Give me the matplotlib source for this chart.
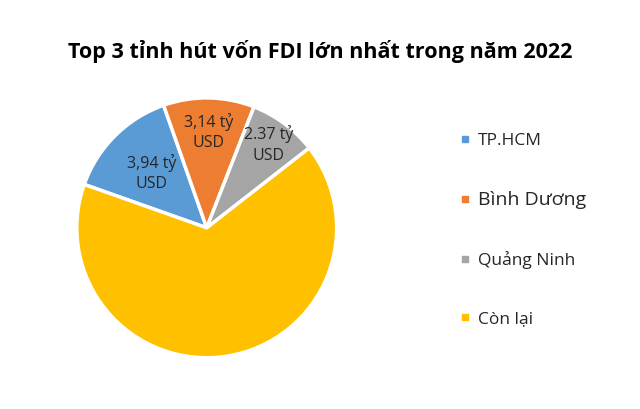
import numpy as np
import matplotlib.pyplot as plt
from matplotlib.lines import Line2D

# data (ty USD)
provinces = ["TP.HCM", "Bình Dương", "Quảng Ninh", "Còn lại"]
fdi_values = [3.94, 3.14, 2.37, 18.3]
slice_labels = ["3,94 tỷ\nUSD", "3,14 tỷ\nUSD", "2.37 tỷ\nUSD", ""]

colors = ["#5B9BD5", "#ED7D31", "#A5A5A5", "#FFC000"]
label_dist = [0.6, 0.74, 0.8, 0.6]
legend_sizes = [12.5, 14, 12.5, 12.5]

plt.rcParams['font.family'] = ['Open Sans', 'DejaVu Sans']

fig = plt.figure(figsize=(6.4, 4.09), dpi=100)
ax = fig.add_axes([0.120, 0.125, 0.406, 0.636])

wedges, _ = ax.pie(fdi_values, colors=colors, startangle=160.5, counterclock=False,
                   wedgeprops=dict(edgecolor="white", linewidth=2.5))

# labels inside the slices
for w, lab, d in zip(wedges, slice_labels, label_dist):
    if not lab:
        continue
    ang = np.radians((w.theta1 + w.theta2) / 2)
    ax.text(d * np.cos(ang), d * np.sin(ang), lab, ha="center", va="center",
            fontsize=11.5, color="#262626", linespacing=1.35)

ax.set_xlim(-1, 1)
ax.set_ylim(-1, 1)

fig.text(0.5, 0.873, "Top 3 tỉnh hút vốn FDI lớn nhất trong năm 2022",
         ha="center", va="center", fontsize=15.5, fontweight="bold", color="black")

handles = [Line2D([], [], marker="s", linestyle="none", markersize=5,
                  markerfacecolor=c, markeredgecolor=c) for c in colors]
leg = fig.legend(handles, provinces, loc="upper left", bbox_to_anchor=(0.694, 0.713),
                 frameon=False, labelspacing=2.42, handlelength=0.6, handletextpad=0.45,
                 fontsize=12.5)
for t, s in zip(leg.get_texts(), legend_sizes):
    t.set_fontsize(s)
    t.set_color("#262626")

fig.savefig("out.png", dpi=100)
